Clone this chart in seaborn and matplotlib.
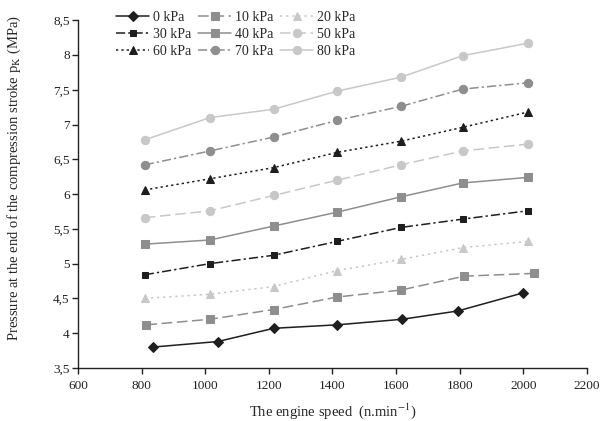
import numpy as np
import pandas as pd
import matplotlib
matplotlib.use('Agg')
import matplotlib.pyplot as plt
import seaborn as sns

# engine speed for each series (points are slightly shifted in the original)
speed_0 = [835, 1040, 1215, 1415, 1620, 1795, 2000]
speed_10 = [815, 1015, 1215, 1415, 1615, 1815, 2035]
speed_other = [810, 1015, 1215, 1415, 1615, 1810, 2015]

p_0 = [3.80, 3.88, 4.07, 4.12, 4.20, 4.32, 4.58]
p_10 = [4.12, 4.20, 4.34, 4.52, 4.62, 4.82, 4.86]
p_20 = [4.50, 4.56, 4.67, 4.90, 5.06, 5.23, 5.32]
p_30 = [4.84, 5.00, 5.12, 5.32, 5.52, 5.64, 5.76]
p_40 = [5.28, 5.34, 5.54, 5.74, 5.96, 6.16, 6.24]
p_50 = [5.66, 5.76, 5.98, 6.20, 6.42, 6.62, 6.72]
p_60 = [6.06, 6.22, 6.38, 6.60, 6.76, 6.96, 7.18]
p_70 = [6.42, 6.62, 6.82, 7.06, 7.26, 7.51, 7.60]
p_80 = [6.78, 7.10, 7.22, 7.48, 7.68, 7.99, 8.17]

labels = ['0 kPa', '10 kPa', '20 kPa', '30 kPa', '40 kPa',
          '50 kPa', '60 kPa', '70 kPa', '80 kPa']
speeds = [speed_0, speed_10] + [speed_other] * 7
values = [p_0, p_10, p_20, p_30, p_40, p_50, p_60, p_70, p_80]

black, grey, light = '#1e1e1e', '#8e8e8e', '#c8c8c8'
styles = [
    (black, 'D', '-', 5),
    (grey, 's', (0, (7, 3)), 5.5),
    (light, '^', (0, (1.5, 2.5)), 6),
    (black, 's', (0, (6, 2, 1.5, 2)), 5),
    (grey, 's', '-', 5.5),
    (light, 'o', (0, (7, 3)), 6),
    (black, '^', (0, (1.5, 2)), 6),
    (grey, 'o', (0, (6, 2, 1.5, 2)), 6),
    (light, 'o', '-', 6),
]

sns.set_style('white')
plt.rcParams['font.family'] = ['Liberation Serif', 'DejaVu Serif']
plt.rcParams['mathtext.fontset'] = 'stix'

fig = plt.figure(figsize=(6.0, 4.21), dpi=100)
ax = fig.add_axes([0.13, 0.126, 0.848, 0.826])

for lab, xs, ys, (col, mk, ls, ms) in zip(labels, speeds, values, styles):
    df = pd.DataFrame({'speed': xs, 'p': ys})
    sns.lineplot(data=df, x='speed', y='p', ax=ax, color=col, marker=mk,
                 markersize=ms, markeredgecolor=col, linestyle=ls,
                 linewidth=1.1, label=lab)

ax.set_xlim(600, 2200)
ax.set_ylim(3.5, 8.5)
ax.set_xticks(np.arange(600, 2201, 200))
yt = np.arange(3.5, 8.51, 0.5)
ax.set_yticks(yt)
ax.set_yticklabels([('%g' % v).replace('.', ',') for v in yt])
ax.tick_params(axis='both', labelsize=9.5, direction='out', length=4,
               width=1, colors='#222222', left=True, bottom=True, pad=2)
ax.tick_params(axis='x', pad=5)
for s in ['top', 'right']:
    ax.spines[s].set_visible(False)
for s in ['left', 'bottom']:
    ax.spines[s].set_color('#222222')
    ax.spines[s].set_linewidth(1.0)

ax.set_xlabel('The engine speed  (n.min$^{-1}$)', fontsize=10.5)
ax.xaxis.set_label_coords(0.5, -0.095)
ax.set_ylabel('Pressure at the end of the compression stroke p$_{\\mathrm{K}}$ (MPa)',
              fontsize=10.5)
ax.yaxis.set_label_coords(-0.108, 0.545)

h, l = ax.get_legend_handles_labels()
order = [0, 3, 6, 1, 4, 7, 2, 5, 8]
ax.legend([h[i] for i in order], [l[i] for i in order], ncol=3,
          loc='upper left', bbox_to_anchor=(116 / 600, 1 - 11 / 421),
          bbox_transform=fig.transFigure, frameon=False, fontsize=10,
          handlelength=2.4, handletextpad=0.25, columnspacing=0.5,
          labelspacing=0.3, borderpad=0, borderaxespad=0)

fig.savefig('out.png', dpi=100)
plt.close(fig)
